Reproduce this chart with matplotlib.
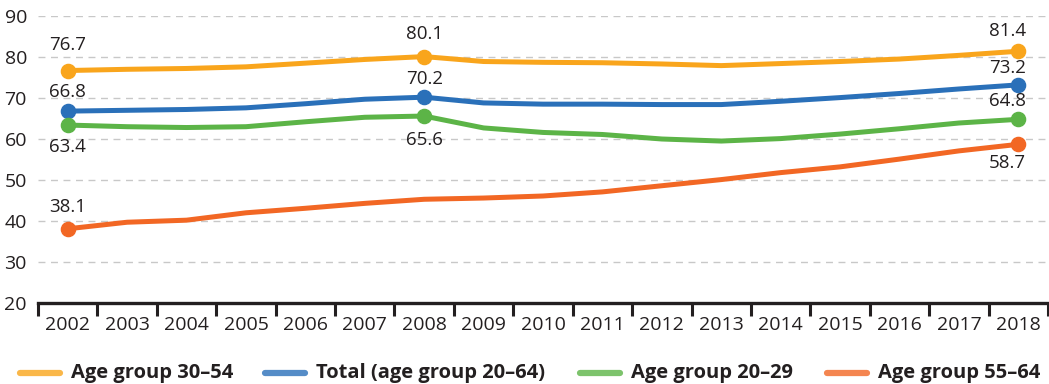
import matplotlib
matplotlib.use("Agg")
import matplotlib.pyplot as plt
from matplotlib.lines import Line2D
import numpy as np

years = list(range(2002, 2019))
age_30_54 = [76.7, 77.0, 77.2, 77.6, 78.5, 79.4, 80.1, 78.9, 78.7, 78.6, 78.3, 77.9, 78.4, 78.9, 79.5, 80.4, 81.4]
total_20_64 = [66.8, 67.0, 67.2, 67.6, 68.6, 69.7, 70.2, 68.8, 68.5, 68.5, 68.4, 68.4, 69.2, 70.1, 71.1, 72.2, 73.2]
age_20_29 = [63.4, 63.0, 62.8, 63.0, 64.2, 65.3, 65.6, 62.7, 61.6, 61.1, 60.0, 59.5, 60.1, 61.2, 62.5, 63.9, 64.8]
age_55_64 = [38.1, 39.7, 40.2, 42.0, 43.1, 44.3, 45.3, 45.6, 46.1, 47.1, 48.6, 50.1, 51.8, 53.2, 55.1, 57.1, 58.7]

series_names = ["Age group 30\u201354", "Total (age group 20\u201364)", "Age group 20\u201329", "Age group 55\u201364"]
series_values = [age_30_54, total_20_64, age_20_29, age_55_64]
series_colors = ["#F9A51C", "#2A70B9", "#5CB447", "#F26724"]

# labelled points: index -> (dx, dy) offset of the label centre in pixels
label_offsets = [
    {0: (0, 26), 6: (0, 23), 16: (-11, 20)},
    {0: (0, 19), 6: (0, 18), 16: (-11, 17)},
    {0: (0, -22), 6: (0, -24), 16: (-11, 18)},
    {0: (0, 22), 16: (-11, -19)},
]

plt.rcParams['font.family'] = ['Open Sans', 'DejaVu Sans']
text_color = "#231F20"
W, H = 1049, 384
px = 72 / 100  # points per pixel at 100 dpi

fig = plt.figure(figsize=(W / 100, H / 100), dpi=100)
ax = fig.add_axes([38 / W, 81 / H, 1010 / W, 287 / H])

x = np.arange(len(years))
for vals, col, offs in zip(series_values, series_colors, label_offsets):
    ax.plot(x, vals, color=col, lw=3.6, solid_capstyle="round", solid_joinstyle="round", zorder=3)
    idx = list(offs.keys())
    ax.plot(x[idx], [vals[i] for i in idx], "o", color=col, ms=10.2, zorder=4, clip_on=False)
    for i, (dx, dy) in offs.items():
        ax.annotate(f"{vals[i]:.1f}", (x[i], vals[i]), xytext=(dx * px, dy * px),
                    textcoords="offset points", ha="center", va="center",
                    fontsize=13.5, color=text_color, zorder=5)

ax.set_xlim(-0.5, len(years) - 0.5)
ax.set_ylim(20, 90)
ax.set_yticks(range(20, 91, 10))
ax.set_xticks(x)
ax.set_xticklabels([str(y) for y in years])
ax.set_xticks(np.arange(-0.5, len(years), 1.0), minor=True)
ax.tick_params(axis="x", which="major", length=0, pad=9, labelsize=14, labelcolor=text_color)
ax.tick_params(axis="x", which="minor", length=9, width=2.2, color=text_color, direction="out")
ax.tick_params(axis="y", length=0, pad=8, labelsize=14, labelcolor=text_color)

for s in ["top", "right", "left"]:
    ax.spines[s].set_visible(False)
ax.spines["bottom"].set_linewidth(2.4)
ax.spines["bottom"].set_color(text_color)
ax.spines["bottom"].set_zorder(6)

ax.yaxis.grid(True, color="#C8C8C8", ls=(0, (5, 4)), lw=1.0)
ax.set_axisbelow(True)

# legend row along the bottom
legend_x = [20, 265, 580, 827]
legend_y = 1 - 373 / H
for lx, name, col in zip(legend_x, series_names, series_colors):
    fig.add_artist(Line2D([lx / W, (lx + 40) / W], [legend_y, legend_y], transform=fig.transFigure,
                          color=col, lw=4.5, alpha=0.8, solid_capstyle="round"))
    fig.text((lx + 51) / W, legend_y, name, ha="left", va="center", fontsize=14.5,
             fontweight="bold", color=text_color)

fig.savefig("out.png", dpi=100)
